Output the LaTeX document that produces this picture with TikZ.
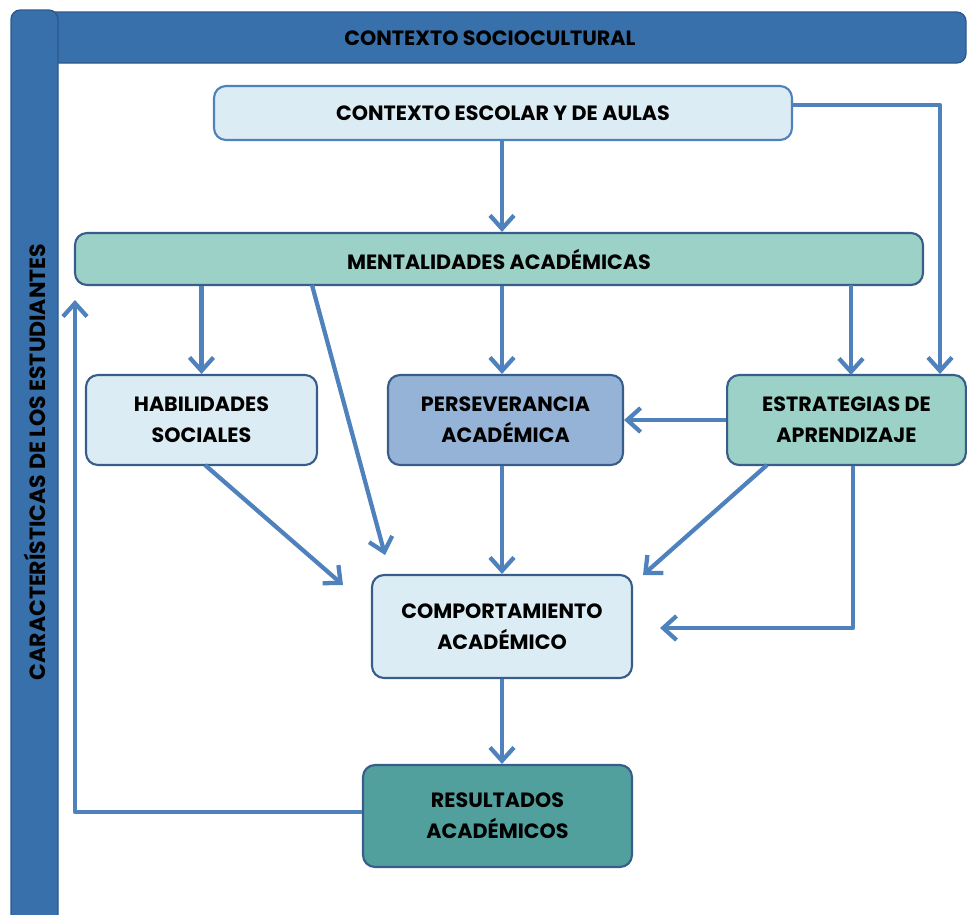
\documentclass[tikz,border=0pt]{standalone}
\usepackage{fontspec}
\setmainfont{Poppins}
\usetikzlibrary{arrows.meta}
\definecolor{barblue}{RGB}{55,112,170}
\definecolor{bardark}{RGB}{44,90,140}
\definecolor{arrowblue}{RGB}{79,129,189}
\definecolor{edgeblue}{RGB}{56,93,138}
\definecolor{lightblue}{RGB}{219,236,244}
\definecolor{lightteal}{RGB}{155,209,198}
\definecolor{midblue}{RGB}{149,179,215}
\definecolor{darkteal}{RGB}{81,160,158}
\tikzset{
  box/.style={draw=edgeblue, line width=1.6pt, rounded corners=9pt, align=center,
    font=\bfseries\fontsize{15.5}{23}\selectfont, inner sep=0pt},
  conn/.style={draw=arrowblue, line width=3.2pt, line join=round,
    -{Straight Barb[length=10pt,width=18pt,line width=3.2pt]}},
}
\begin{document}
\begin{tikzpicture}[x=0.75pt,y=-0.75pt]
\useasboundingbox (0,0) rectangle (967,914);
% frame bars
\draw[fill=barblue, draw=bardark, line width=1pt, rounded corners=7pt] (30,12) rectangle (966,63);
\draw[fill=barblue, draw=bardark, line width=1pt, rounded corners=7pt] (11,10) rectangle (58,940);
\node (soc) at (490,38) [font=\bfseries\fontsize{15.5}{18}\selectfont] {CONTEXTO SOCIOCULTURAL};
\node (car) at (35,462) [rotate=90, font=\bfseries\fontsize{16.5}{18}\selectfont] {CARACTERÍSTICAS DE LOS ESTUDIANTES};
% boxes
\node (esc) at (503,113) [box, draw=arrowblue, fill=lightblue, minimum width=433.5pt, minimum height=40.5pt] {CONTEXTO ESCOLAR Y DE AULAS};
\node (ment) at (499,259) [box, fill=lightteal, minimum width=636pt, minimum height=39pt] {MENTALIDADES ACADÉMICAS};
\node (hab) at (201.5,420) [box, fill=lightblue, minimum width=173.25pt, minimum height=67.5pt] {HABILIDADES\\SOCIALES};
\node (pers) at (505.5,420) [box, fill=midblue, minimum width=176.25pt, minimum height=67.5pt] {PERSEVERANCIA\\ACADÉMICA};
\node (estr) at (846.5,420) [box, fill=lightteal, minimum width=179pt, minimum height=67.5pt] {ESTRATEGIAS DE\\APRENDIZAJE};
\node (comp) at (502,626.5) [box, fill=lightblue, minimum width=195pt, minimum height=77.25pt] {COMPORTAMIENTO\\ACADÉMICO};
\node (res) at (497.5,816) [box, fill=darkteal, minimum width=201.75pt, minimum height=76.5pt] {RESULTADOS\\ACADÉMICOS};
% free ends
\coordinate (x1) at (502,0);
\coordinate (c1) at (940,105);
\coordinate (c2) at (385,555);
\coordinate (c3) at (343,585);
\coordinate (c4) at (643,575);
\coordinate (c5) at (853,628);
\coordinate (c6) at (660,628);
\coordinate (c7) at (75,812);
\coordinate (c8) at (75,300);
% connectors
\draw[conn] (x1 |- esc.south) -- (x1 |- ment.north);
\draw[conn] (esc.east |- c1) -- (c1) -- (c1 |- estr.north);
\draw[conn] (ment.south -| hab.north) -- (hab.north);
\draw[conn] (312,285) -- (c2);
\draw[conn] (x1 |- ment.south) -- (x1 |- pers.north);
\draw[conn] (851,285) -- (851,375);
\draw[conn] (estr.west) -- (pers.east);
\draw[conn] (205,465) -- (c3);
\draw[conn] (x1 |- pers.south) -- (x1 |- comp.north);
\draw[conn] (767,465) -- (c4);
\draw[conn] (c5 |- estr.south) -- (c5) -- (c6);
\draw[conn] (x1 |- comp.south) -- (x1 |- res.north);
\draw[conn] (c7 -| res.west) -- (c7) -- (c8);
\end{tikzpicture}
\end{document}
